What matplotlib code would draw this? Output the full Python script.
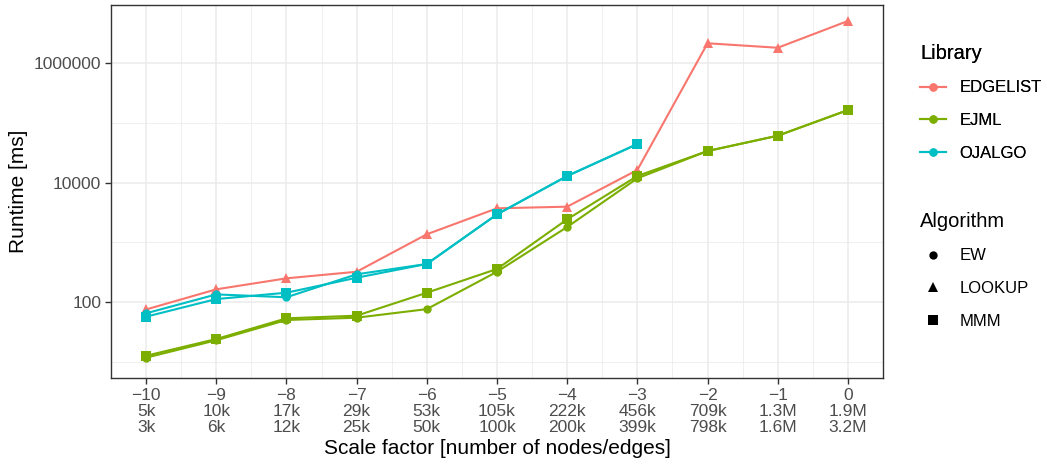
import matplotlib
matplotlib.use("Agg")
import matplotlib.pyplot as plt
from matplotlib.lines import Line2D
import numpy as np

plt.rcParams['font.family'] = ['Liberation Sans', 'DejaVu Sans']

scale = [-10, -9, -8, -7, -6, -5, -4, -3, -2, -1, 0]
nodes = ["5k", "10k", "17k", "29k", "53k", "105k", "222k", "456k", "709k", "1.3M", "1.9M"]
edges = ["3k", "6k", "12k", "25k", "50k", "100k", "200k", "399k", "798k", "1.6M", "3.2M"]

edgelist_lookup = [75, 163, 249, 321, 1360, 3700, 3940, 16200, 2140000, 1800000, 5050000]
ejml_ew = [11.7, 22.9, 50, 54.6, 76, 321, 1800, 11750, 33650, 60700, 163000]
ejml_mmm = [12.6, 24, 53.3, 59, 143, 357, 2420, 12850, 33650, 60700, 163000]
ojalgo_ew = [64.7, 134, 120, 291, 433, 2930, 12850, 44000]
ojalgo_mmm = [56.8, 112, 143, 255, 433, 2930, 12850, 44000]

colors = {"EDGELIST": "#F8766D", "EJML": "#7CAE00", "OJALGO": "#00BFC4"}

fig = plt.figure(figsize=(10.47, 4.65), dpi=100)
ax = fig.add_axes([111/1047, 1-378/465, (883-111)/1047, (378-5)/465])

series = [
    (edgelist_lookup, "EDGELIST", "^"),
    (ejml_ew, "EJML", "o"),
    (ejml_mmm, "EJML", "s"),
    (ojalgo_ew, "OJALGO", "o"),
    (ojalgo_mmm, "OJALGO", "s"),
]
for vals, lib, mk in series:
    x = scale[:len(vals)]
    ax.plot(x, vals, color=colors[lib], marker=mk, lw=1.5, ms=6.5 if mk != "o" else 6,
            markeredgewidth=0, zorder=3)

ax.set_yscale('log')
ax.set_ylim(10**0.728, 10**6.971)
ax.set_xlim(-10.5, 0.5)
ax.set_yticks([100, 10000, 1000000])
ax.set_yticklabels(["100", "10000", "1000000"])
ax.set_yticks([10, 1000, 100000], minor=True)
ax.yaxis.set_minor_formatter(plt.NullFormatter())
ax.set_xticks(scale)
ax.set_xticklabels([f"\u2212{-s}\n{n}\n{e}" if s < 0 else f"{s}\n{n}\n{e}"
                    for s, n, e in zip(scale, nodes, edges)], linespacing=1.1)
ax.set_xticks(np.arange(-10.5, 0.6, 1.0), minor=True)

ax.grid(True, which='major', color='#EBEBEB', lw=1.1, zorder=0)
ax.grid(True, which='minor', color='#EBEBEB', lw=0.55, zorder=0)
ax.set_axisbelow(True)
for sp in ax.spines.values():
    sp.set_color('#333333')
    sp.set_linewidth(1.0)
ax.tick_params(which='major', length=4, color='#333333', width=1.0,
               labelsize=12.5, labelcolor='#4D4D4D', pad=3)
ax.tick_params(which='minor', length=0)
ax.set_xlabel("Scale factor [number of nodes/edges]", fontsize=15, labelpad=3)
ax.set_ylabel("Runtime [ms]", fontsize=15, labelpad=4)

# legends
lib_handles = [Line2D([], [], color=colors[k], marker='o', lw=1.5, ms=6, markeredgewidth=0)
               for k in ["EDGELIST", "EJML", "OJALGO"]]
leg1 = fig.legend(lib_handles, ["EDGELIST", "EJML", "OJALGO"], title="Library",
                  loc='upper left', bbox_to_anchor=(905/1047, 1-29/465), frameon=False,
                  fontsize=12, title_fontsize=14.5, handlelength=1.55, labelspacing=1.05,
                  alignment='left', handletextpad=0.8)
alg_handles = [Line2D([], [], color='black', marker=m, lw=0, ms=6.5 if m != 'o' else 6,
                      markeredgewidth=0) for m in ['o', '^', 's']]
leg2 = fig.legend(alg_handles, ["EW", "LOOKUP", "MMM"], title="Algorithm",
                  loc='upper left', bbox_to_anchor=(905/1047, 1-197/465), frameon=False,
                  fontsize=12, title_fontsize=14.5, handlelength=1.55, labelspacing=1.05,
                  alignment='left', handletextpad=0.8)
fig.add_artist(leg1)

fig.savefig("out.png", dpi=100)
